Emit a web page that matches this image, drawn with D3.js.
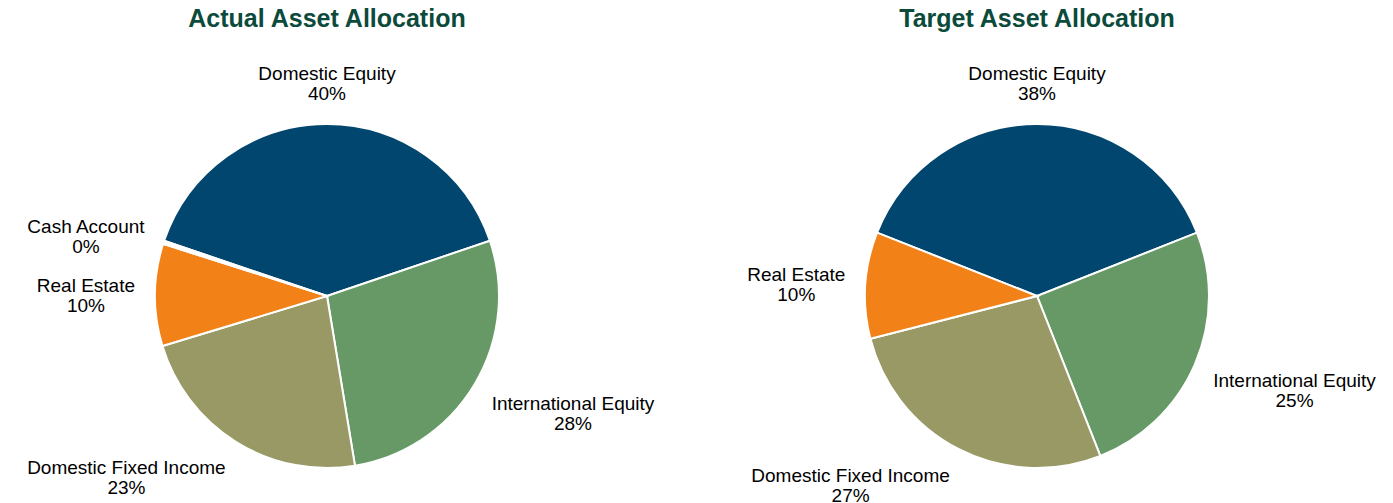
<!DOCTYPE html>
<html>
<head>
<meta charset="utf-8">
<script src="https://cdn.jsdelivr.net/npm/d3@7"></script>
<style>
  body { margin: 0; background: #fff; }
  text { font-family: "Liberation Sans", Arial, sans-serif; }
</style>
</head>
<body>
<div id="chart"></div>
<script>
var categories = ["Domestic Equity", "International Equity", "Domestic Fixed Income", "Real Estate", "Cash Account"];
var actualValues = [39.6, 27.6, 22.9, 9.6, 0.3];
var targetValues = [38, 25, 27, 10, 0];
var colors = ["#00466e", "#669966", "#999966", "#f28118", "#ffffff"];

var width = 1393, height = 503,
    radius = 172, labelGap = 20, lineHeight = 20;

var svg = d3.select("#chart")
  .append("svg")
    .attr("width", width)
    .attr("height", height);

var color = d3.scaleOrdinal().domain(categories).range(colors);

function drawPie(title, values, cx, cy) {
  var data = categories.map(function(c, i) { return {name: c, value: values[i]}; });
  var total = d3.sum(values);
  // first slice is centred on the top of the pie
  var start = -Math.PI * values[0] / total;

  var pie = d3.pie()
    .sort(null)
    .value(function(d) { return d.value; })
    .startAngle(start)
    .endAngle(start + 2 * Math.PI);

  var arc = d3.arc().innerRadius(0).outerRadius(radius);

  svg.append("text")
    .attr("x", cx)
    .attr("y", 27)
    .attr("text-anchor", "middle")
    .style("font-size", "25px")
    .style("font-weight", "bold")
    .style("fill", "#0c4a3b")
    .text(title);

  var g = svg.append("g")
    .attr("transform", "translate(" + cx + "," + cy + ")");

  var arcs = pie(data).filter(function(d) { return d.data.value > 0; });

  g.selectAll("path")
    .data(arcs)
    .enter()
    .append("path")
      .attr("d", arc)
      .attr("fill", function(d) { return color(d.data.name); })
      .attr("stroke", "#fff")
      .attr("stroke-width", 2);

  arcs.forEach(function(d) {
    var mid = (d.startAngle + d.endAngle) / 2,
        s = Math.sin(mid), c = Math.cos(mid),
        ax = s * (radius + labelGap),
        ay = -c * (radius + labelGap);
    var pct = Math.round(d.data.value / total * 100) + "%";

    var lbl = g.append("g");
    var t1 = lbl.append("text").attr("text-anchor", "middle").style("font-size", "19px").text(d.data.name);
    var t2 = lbl.append("text").attr("text-anchor", "middle").style("font-size", "19px").text(pct);
    var w = Math.max(t1.node().getComputedTextLength(), t2.node().getComputedTextLength());

    var x = ax;
    if (s > 0.1) x = ax + w / 2;
    else if (s < -0.1) x = ax - w / 2;

    var y1;
    if (c > 0.35) y1 = ay - 4 - lineHeight;
    else if (c < -0.35) y1 = ay + 15;
    else y1 = ay - lineHeight / 2 + 7;

    t1.attr("x", x).attr("y", y1);
    t2.attr("x", x).attr("y", y1 + lineHeight);
  });
}

drawPie("Actual Asset Allocation", actualValues, 327, 296);
drawPie("Target Asset Allocation", targetValues, 1037, 296);
</script>
</body>
</html>
